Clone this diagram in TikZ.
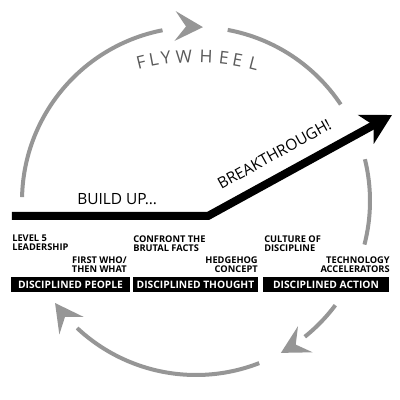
\documentclass[tikz,border=0pt]{standalone}
\usepackage{fontspec}
\newfontfamily\wheelFont{Open Sans}
\usetikzlibrary{arrows.meta,calc}
\definecolor{wheelGray}{RGB}{150,150,150}
\definecolor{letterGray}{RGB}{90,90,90}
\newcommand{\wheelArc}[2]{%%
  \draw[arcStyle] (#1:\radius) arc[start angle=#1, end angle=#2, radius=\radius];
}
\newcommand{\wheelChevron}[1]{%%
  \fill[chevronStyle, shift={(#1:\radius)}, rotate=#1-90]
    (0,0) -- (-28,15) -- (-17,0) -- (-28,-15) -- cycle;
}
\newcommand{\stageBox}[4]{%%
  \node[boxStyle, minimum width=#3] (#1) at (#2) {#4};
}

\begin{document}
\begin{tikzpicture}[x=0.025cm, y=0.025cm,%%
  arcStyle/.style={draw=wheelGray, line width=0.1cm},%%
  chevronStyle/.style={fill=wheelGray},%%
  thrustStyle/.style={line width=0.2cm, -{Stealth[length=21pt, width=23pt, inset=6pt]}},%%
  bigText/.style={font=\wheelFont\fontsize{11}{11}\selectfont, inner sep=0pt},%%
  letterStyle/.style={font=\wheelFont\fontsize{12.5}{12.5}\selectfont, text=letterGray, inner sep=0pt},%%
  labelStyle/.style={font=\wheelFont\bfseries\fontsize{6.6}{6.4}\selectfont, inner sep=0pt},%%
  boxStyle/.style={fill=black, text=white, inner sep=0pt, minimum height=0.375cm,
    font=\wheelFont\bfseries\fontsize{7.3}{7.3}\selectfont}%%
]
%%
%%
\pgfmathsetmacro{\radius}{174}
\pgfmathsetmacro{\textRadius}{230}
%%
\useasboundingbox (-196,-199) rectangle (204,201);
\coordinate (centre) at (0,0);
\coordinate (textCentre) at (0,-85);
%% The thrust line.
\coordinate (buildStart) at (-184,-15);
\coordinate (bend) at (12,-15);
\coordinate (breakTip) at (196,86);
%%
%%
%% The wheel.
\wheelArc{178.7}{101.1}
\wheelChevron{87.7}
\wheelArc{79.5}{33.7}
\wheelArc{13.9}{-14.5}
\wheelArc{-36.8}{-51.3}
\wheelChevron{-60.8}
\wheelArc{-68.7}{-133.1}
\wheelChevron{-144.1}
%% The name, letter by letter.
\foreach \ang/\ch [count=\i] in {103.8/F, 100.6/L, 97.5/Y, 93.0/W, 87.5/H, 83.0/E, 79.6/E, 75.4/L}
  \node[letterStyle, rotate=\ang-90] (fly\i) at ($(textCentre)+(\ang:\textRadius)$) {\ch};
%% Build up and breakthrough.
\draw[thrustStyle] (buildStart) -- (bend) -- (breakTip);
\node[bigText, anchor=base west] (buildText) at (-119,-4) {BUILD UP...};
\node[bigText, anchor=base, rotate=29] (breakText) at (81,42) {BREAKTHROUGH!};
%% The stages.
\node[labelStyle, anchor=north west, align=left] (levelFive) at (-184,-34) {LEVEL 5\\LEADERSHIP};
\node[labelStyle, anchor=north east, align=right] (firstWho) at (-69,-55) {FIRST WHO/\\THEN WHAT};
\node[labelStyle, anchor=north west, align=left] (brutalFacts) at (-63,-34) {CONFRONT THE\\BRUTAL FACTS};
\node[labelStyle, anchor=north east, align=right] (hedgehog) at (62,-55) {HEDGEHOG\\CONCEPT};
\node[labelStyle, anchor=north west, align=left] (culture) at (68,-34) {CULTURE OF\\DISCIPLINE};
\node[labelStyle, anchor=north east, align=right] (technology) at (194,-55) {TECHNOLOGY\\ACCELERATORS};
\stageBox{people}{-125.5,-83.5}{2.975cm}{DISCIPLINED PEOPLE}
\stageBox{thought}{-0.5,-83.5}{3.125cm}{DISCIPLINED THOUGHT}
\stageBox{action}{130,-83.5}{3.15cm}{DISCIPLINED ACTION}
\end{tikzpicture}
\end{document}
